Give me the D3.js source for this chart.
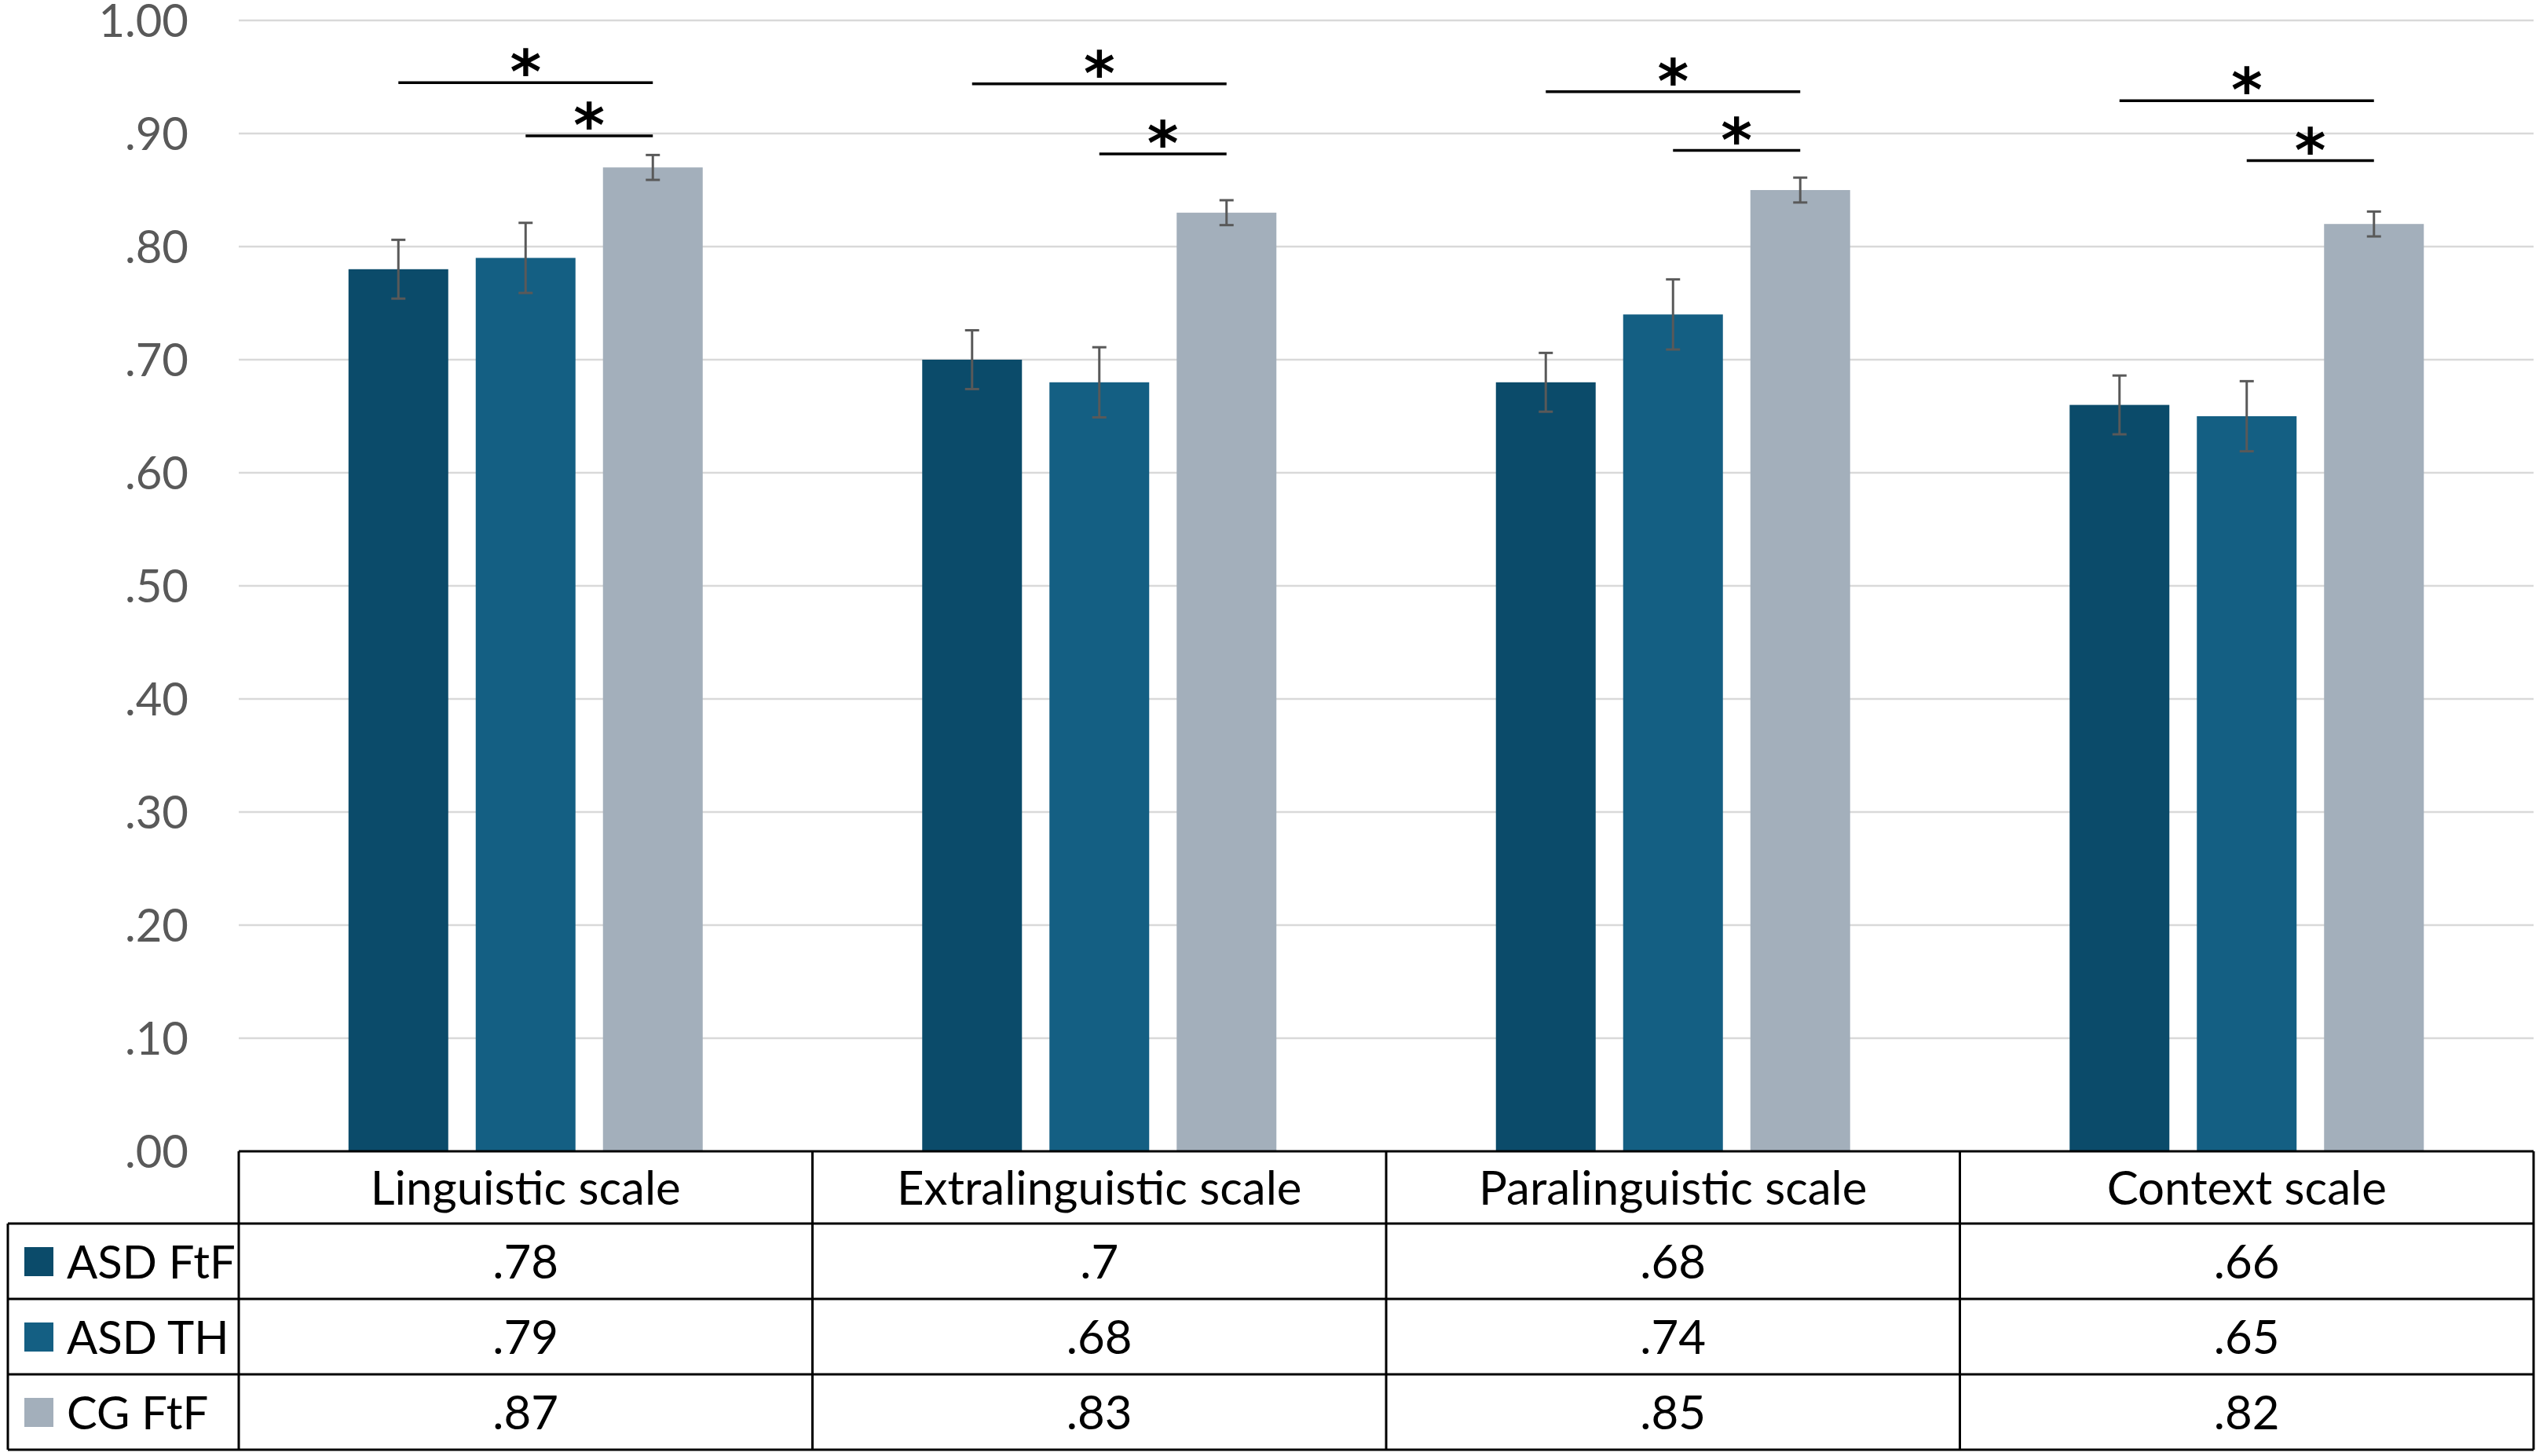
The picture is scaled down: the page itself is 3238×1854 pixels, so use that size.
<!DOCTYPE html>
<html>
<head>
<meta charset="utf-8">
<script src="https://cdn.jsdelivr.net/npm/d3@7"></script>
<style>
  body { margin: 0; background: #fff; }
  svg { display: block; }
</style>
</head>
<body>
<div id="chart"></div>
<script>
// categories / series
const categories = ["Linguistic scale", "Extralinguistic scale", "Paralinguistic scale", "Context scale"];
const seriesNames = ["ASD FtF", "ASD TH", "CG FtF"];

// bar values
const asdFtf = [0.78, 0.70, 0.68, 0.66];
const asdTh = [0.79, 0.68, 0.74, 0.65];
const cgFtf = [0.87, 0.83, 0.85, 0.82];

// error bar half widths
const asdFtfErr = [0.026, 0.026, 0.026, 0.026];
const asdThErr = [0.031, 0.031, 0.031, 0.031];
const cgFtfErr = [0.011, 0.011, 0.011, 0.011];

// significance brackets: level of the ASD FtF–CG FtF line and the ASD TH–CG FtF line
const sigLongLevel = [0.945, 0.944, 0.937, 0.929];
const sigShortLevel = [0.898, 0.882, 0.885, 0.876];

const yTickValues = [0, 0.1, 0.2, 0.3, 0.4, 0.5, 0.6, 0.7, 0.8, 0.9, 1.0];

const colors = ["#0b4b6a", "#145f83", "#a3afbb"];

const W = 3238, H = 1854;
const margin = { top: 26, left: 304, right: 12 };
const plotBottom = 1466;
const font = "Lato, 'Open Sans', sans-serif";
const fontSize = 60;
const capHalf = fontSize * 0.72 / 2;

const series = [
  { name: seriesNames[0], values: asdFtf, err: asdFtfErr },
  { name: seriesNames[1], values: asdTh, err: asdThErr },
  { name: seriesNames[2], values: cgFtf, err: cgFtfErr }
];

const svg = d3.select("#chart").append("svg")
  .attr("width", W)
  .attr("height", H);

const x0 = d3.scaleBand()
  .domain(categories)
  .range([margin.left, W - margin.right]);

const groupWidth = 451;
const x1 = d3.scaleBand()
  .domain(seriesNames)
  .range([0, groupWidth])
  .paddingInner(0.216);
const groupOffset = (x0.bandwidth() - groupWidth) / 2;

const y = d3.scaleLinear()
  .domain([0, 1])
  .range([plotBottom, margin.top]);

const fmt = v => d3.format(".2f")(v).replace(/^0\./, ".");
const fmtTable = v => String(+v.toFixed(2)).replace(/^0\./, ".");

// gridlines
svg.append("g")
  .selectAll("line")
  .data(yTickValues.filter(d => d > 0))
  .join("line")
  .attr("x1", margin.left)
  .attr("x2", W - margin.right)
  .attr("y1", d => y(d))
  .attr("y2", d => y(d))
  .attr("stroke", "#d9d9d9")
  .attr("stroke-width", 2.5);

// y axis labels
const yAxis = svg.append("g")
  .attr("transform", `translate(240,0)`)
  .call(d3.axisLeft(y).tickValues(yTickValues).tickFormat(fmt).tickSize(0).tickPadding(0));
yAxis.select(".domain").remove();
yAxis.selectAll("text")
  .attr("font-family", font)
  .attr("font-size", 58)
  .attr("fill", "#595959")
  .attr("dy", null)
  .attr("y", 58 * 0.72 / 2);

// bars
const groups = svg.append("g")
  .selectAll("g")
  .data(series)
  .join("g")
  .attr("fill", (d, i) => colors[i]);

groups.selectAll("rect")
  .data(s => categories.map((c, j) => ({ cat: c, name: s.name, v: s.values[j], e: s.err[j] })))
  .join("rect")
  .attr("x", d => x0(d.cat) + groupOffset + x1(d.name))
  .attr("width", x1.bandwidth())
  .attr("y", d => y(d.v))
  .attr("height", d => y(0) - y(d.v));

// error bars
const errData = series.flatMap(s =>
  categories.map((c, j) => ({ cat: c, name: s.name, v: s.values[j], e: s.err[j] })));
const cx = d => x0(d.cat) + groupOffset + x1(d.name) + x1.bandwidth() / 2;
const errG = svg.append("g")
  .attr("stroke", "#595959")
  .attr("stroke-width", 3);
errG.selectAll("line.stem")
  .data(errData)
  .join("line")
  .attr("class", "stem")
  .attr("x1", cx).attr("x2", cx)
  .attr("y1", d => y(d.v + d.e))
  .attr("y2", d => y(d.v - d.e));
errG.selectAll("line.capTop")
  .data(errData)
  .join("line")
  .attr("class", "capTop")
  .attr("x1", d => cx(d) - 9).attr("x2", d => cx(d) + 9)
  .attr("y1", d => y(d.v + d.e))
  .attr("y2", d => y(d.v + d.e));
errG.selectAll("line.capBot")
  .data(errData)
  .join("line")
  .attr("class", "capBot")
  .attr("x1", d => cx(d) - 9).attr("x2", d => cx(d) + 9)
  .attr("y1", d => y(d.v - d.e))
  .attr("y2", d => y(d.v - d.e));

// significance brackets
const barCenter = (cat, name) => x0(cat) + groupOffset + x1(name) + x1.bandwidth() / 2;
const sigData = categories.flatMap((c, j) => [
  { x1: barCenter(c, seriesNames[0]), x2: barCenter(c, seriesNames[2]), level: sigLongLevel[j] },
  { x1: barCenter(c, seriesNames[1]), x2: barCenter(c, seriesNames[2]), level: sigShortLevel[j] }
]);
const sigG = svg.append("g");
sigG.selectAll("line")
  .data(sigData)
  .join("line")
  .attr("x1", d => d.x1)
  .attr("x2", d => d.x2)
  .attr("y1", d => y(d.level))
  .attr("y2", d => y(d.level))
  .attr("stroke", "#000")
  .attr("stroke-width", 3.5);
sigG.selectAll("text")
  .data(sigData)
  .join("text")
  .attr("x", d => (d.x1 + d.x2) / 2)
  .attr("y", d => y(d.level) + 13)
  .attr("text-anchor", "middle")
  .attr("font-family", "'DejaVu Sans', sans-serif")
  .attr("font-weight", "bold")
  .attr("font-size", 76)
  .attr("fill", "#000")
  .text("*");

// data table
const headerH = 92, rowH = 96;
const tableTop = y(0);
const tableLeft = 10;
const tableRight = W - margin.right;
const rowTops = [tableTop + headerH, tableTop + headerH + rowH, tableTop + headerH + 2 * rowH];
const tableBottom = tableTop + headerH + 3 * rowH;

const tbl = svg.append("g")
  .attr("stroke", "#000")
  .attr("stroke-width", 3);

// horizontal rules
tbl.append("line")
  .attr("x1", margin.left).attr("x2", tableRight)
  .attr("y1", tableTop).attr("y2", tableTop);
tbl.selectAll("line.h")
  .data([...rowTops, tableBottom])
  .join("line")
  .attr("class", "h")
  .attr("x1", tableLeft).attr("x2", tableRight)
  .attr("y1", d => d).attr("y2", d => d);

// vertical rules
const colEdges = categories.map(c => x0(c)).concat([tableRight]);
tbl.selectAll("line.v")
  .data(colEdges)
  .join("line")
  .attr("class", "v")
  .attr("x1", d => d).attr("x2", d => d)
  .attr("y1", tableTop).attr("y2", tableBottom);
tbl.append("line")
  .attr("x1", tableLeft).attr("x2", tableLeft)
  .attr("y1", rowTops[0]).attr("y2", tableBottom);

// header text
svg.append("g")
  .selectAll("text")
  .data(categories)
  .join("text")
  .attr("x", d => x0(d) + x0.bandwidth() / 2)
  .attr("y", tableTop + headerH / 2 + capHalf)
  .attr("text-anchor", "middle")
  .attr("font-family", font)
  .attr("font-size", fontSize)
  .attr("fill", "#000")
  .text(d => d);

// rows
const rows = svg.append("g")
  .selectAll("g")
  .data(series)
  .join("g")
  .attr("transform", (d, i) => `translate(0,${rowTops[i] + rowH / 2})`);

rows.append("rect")
  .attr("x", 31)
  .attr("y", -18)
  .attr("width", 37)
  .attr("height", 37)
  .attr("fill", (d, i) => colors[i]);

rows.append("text")
  .attr("x", 85)
  .attr("y", capHalf)
  .attr("font-family", font)
  .attr("font-size", 58)
  .attr("fill", "#000")
  .text(d => d.name);

rows.selectAll("text.val")
  .data(s => s.values.map((v, j) => ({ cat: categories[j], v })))
  .join("text")
  .attr("class", "val")
  .attr("x", d => x0(d.cat) + x0.bandwidth() / 2)
  .attr("y", capHalf)
  .attr("text-anchor", "middle")
  .attr("font-family", font)
  .attr("font-size", fontSize)
  .attr("fill", "#000")
  .text(d => fmtTable(d.v));
</script>
</body>
</html>
